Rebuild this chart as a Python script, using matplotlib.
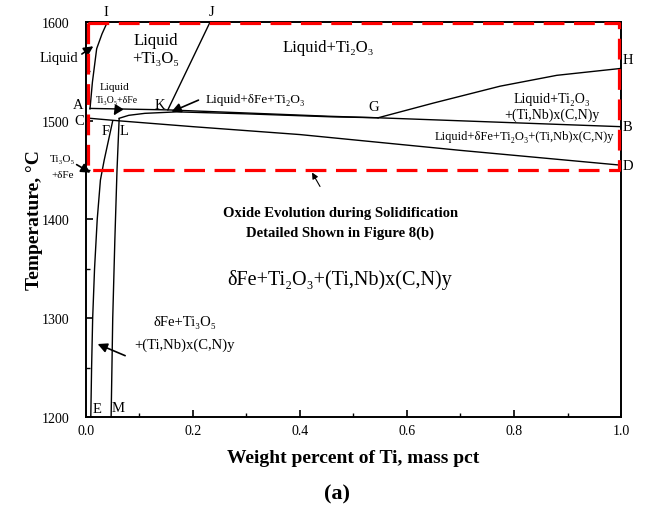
import matplotlib
matplotlib.use("Agg")
from matplotlib import pyplot as plt

plt.rcParams['font.family'] = ['Liberation Serif', 'DejaVu Serif']
plt.rcParams['mathtext.fontset'] = 'stix'

# phase boundary lines (x = wt% Ti, y = temperature in C)
line_IA_x = [0.040, 0.030, 0.020, 0.012, 0.0075]
line_IA_y = [1600, 1588, 1573, 1539, 1512]

line_JK_x = [0.232, 0.153]
line_JK_y = [1600, 1511]

line_AB_x = [0.0075, 0.153, 0.457, 0.546, 1.0]
line_AB_y = [1512.5, 1511, 1504.5, 1503, 1494]

line_LG_x = [0.062, 0.08, 0.11, 0.17, 0.30, 0.457, 0.546]
line_LG_y = [1502.5, 1505.5, 1507.5, 1509, 1507, 1504, 1503]

line_GH_x = [0.546, 0.65, 0.774, 0.88, 1.0]
line_GH_y = [1503, 1518, 1535, 1546, 1553]

line_CD_x = [0.007, 0.06, 0.2, 0.4, 0.7, 1.0]
line_CD_y = [1502.5, 1500, 1494, 1486, 1470, 1455]

line_FE_x = [0.050, 0.042, 0.034, 0.027, 0.021, 0.016, 0.0125, 0.0105, 0.009]
line_FE_y = [1500, 1480, 1460, 1440, 1400, 1350, 1300, 1250, 1200]

line_LM_x = [0.062, 0.058, 0.054, 0.050, 0.047]
line_LM_y = [1502, 1450, 1380, 1300, 1200]

# red dashed box (oxide evolution region)
box_x = [0.004, 0.997, 0.997, 0.004, 0.004]
box_y = [1599, 1599, 1450, 1450, 1599]

xticks = [0.0, 0.2, 0.4, 0.6, 0.8, 1.0]
yticks = [1200, 1300, 1400, 1500, 1600]

fig = plt.figure(figsize=(6.45, 5.10), dpi=100)
ax = fig.add_axes([0.1333, 0.1804, 0.8295, 0.7745])

lines = [(line_IA_x, line_IA_y), (line_JK_x, line_JK_y), (line_AB_x, line_AB_y),
         (line_LG_x, line_LG_y), (line_GH_x, line_GH_y), (line_CD_x, line_CD_y),
         (line_FE_x, line_FE_y), (line_LM_x, line_LM_y)]
for lx, ly in lines:
    ax.plot(lx, ly, color='black', lw=1.0)

ax.plot(box_x, box_y, color='red', lw=2.3, linestyle=(0, (6.5, 3)), zorder=5, clip_on=False)

ax.set_xlim(0, 1.0)
ax.set_ylim(1200, 1600)
ax.set_xticks(xticks)
ax.set_xticklabels(['%.1f' % v for v in xticks])
ax.set_yticks(yticks)
ax.set_xticks([0.1, 0.3, 0.5, 0.7, 0.9], minor=True)
ax.set_yticks([1250, 1350, 1450, 1550], minor=True)
ax.tick_params(which='both', direction='in', labelsize=10)
ax.tick_params(which='major', length=5, width=1.2)
ax.tick_params(which='minor', length=3, width=1.0)
ax.tick_params(axis='y', pad=12)
ax.tick_params(axis='x', pad=5)
for s in ax.spines.values():
    s.set_linewidth(1.4)

ax.set_xlabel('Weight percent of Ti, mass pct', fontsize=14, fontweight='bold', labelpad=9)
ax.set_ylabel('Temperature, °C', fontsize=14, fontweight='bold', labelpad=-1)
fig.text(0.523, 0.02, '(a)', fontsize=16, fontweight='bold', ha='center')

# point labels
pts = [('I', 0.038, 1611), ('J', 0.235, 1611), ('A', -0.015, 1516), ('C', -0.013, 1500),
       ('F', 0.037, 1490), ('L', 0.071, 1490), ('K', 0.138, 1516), ('G', 0.537, 1514),
       ('H', 1.012, 1562), ('B', 1.012, 1494), ('D', 1.012, 1455), ('E', 0.021, 1209),
       ('M', 0.060, 1210)]
for t, px, py in pts:
    ax.text(px, py, t, fontsize=10.5, ha='center', va='center', clip_on=False)

ax.text(0.13, 1582, 'Liquid', fontsize=12, ha='center', va='center')
ax.text(0.13, 1564, '+Ti₃O₅', fontsize=12, ha='center', va='center')
ax.text(0.452, 1575, 'Liquid+Ti₂O₃', fontsize=12, ha='center', va='center')
ax.text(0.054, 1535, 'Liquid', fontsize=8, ha='center', va='center')
ax.text(0.058, 1522, 'Ti₃O₅+δFe', fontsize=7, ha='center', va='center')
ax.text(0.316, 1522, 'Liquid+δFe+Ti₂O₃', fontsize=9.5, ha='center', va='center')
ax.text(0.871, 1523, 'Liquid+Ti₂O₃', fontsize=10, ha='center', va='center')
ax.text(0.871, 1507, '+(Ti,Nb)x(C,N)y', fontsize=10, ha='center', va='center')
ax.text(0.82, 1485, 'Liquid+δFe+Ti₂O₃+(Ti,Nb)x(C,N)y', fontsize=9, ha='center', va='center')
ax.text(0.475, 1407, 'Oxide Evolution during Solidification', fontsize=10.5,
        fontweight='bold', ha='center', va='center')
ax.text(0.475, 1387, 'Detailed Shown in Figure 8(b)', fontsize=10.5,
        fontweight='bold', ha='center', va='center')
ax.text(0.475, 1340, 'δFe+Ti₂O₃+(Ti,Nb)x(C,N)y', fontsize=14.5, ha='center', va='center')
ax.text(0.185, 1297, 'δFe+Ti₃O₅', fontsize=10.5, ha='center', va='center')
ax.text(0.185, 1274, '+(Ti,Nb)x(C,N)y', fontsize=10.5, ha='center', va='center')
ax.text(-0.05, 1564, 'Liquid', fontsize=10.5, ha='center', va='center', clip_on=False)
ax.text(-0.043, 1462, 'Ti₃O₅', fontsize=8, ha='center', va='center', clip_on=False)
ax.text(-0.043, 1446, '+δFe', fontsize=8, ha='center', va='center', clip_on=False)

arr = dict(arrowstyle='-|>', color='black', lw=1.2, mutation_scale=14)
ax.annotate('', xy=(0.018, 1577), xytext=(-0.012, 1566), arrowprops=arr, annotation_clip=False)
ax.annotate('', xy=(0.013, 1446), xytext=(-0.022, 1457), arrowprops=arr, annotation_clip=False)
ax.annotate('', xy=(0.049, 1503), xytext=(0.062, 1514), arrowprops=arr)
ax.annotate('', xy=(0.155, 1508), xytext=(0.215, 1522), arrowprops=arr)
ax.annotate('', xy=(0.017, 1275), xytext=(0.078, 1261), arrowprops=arr)
ax.annotate('', xy=(0.42, 1450), xytext=(0.44, 1431),
            arrowprops=dict(arrowstyle='-|>', color='black', lw=0.8, mutation_scale=9))

plt.savefig('out.png', dpi=100)
